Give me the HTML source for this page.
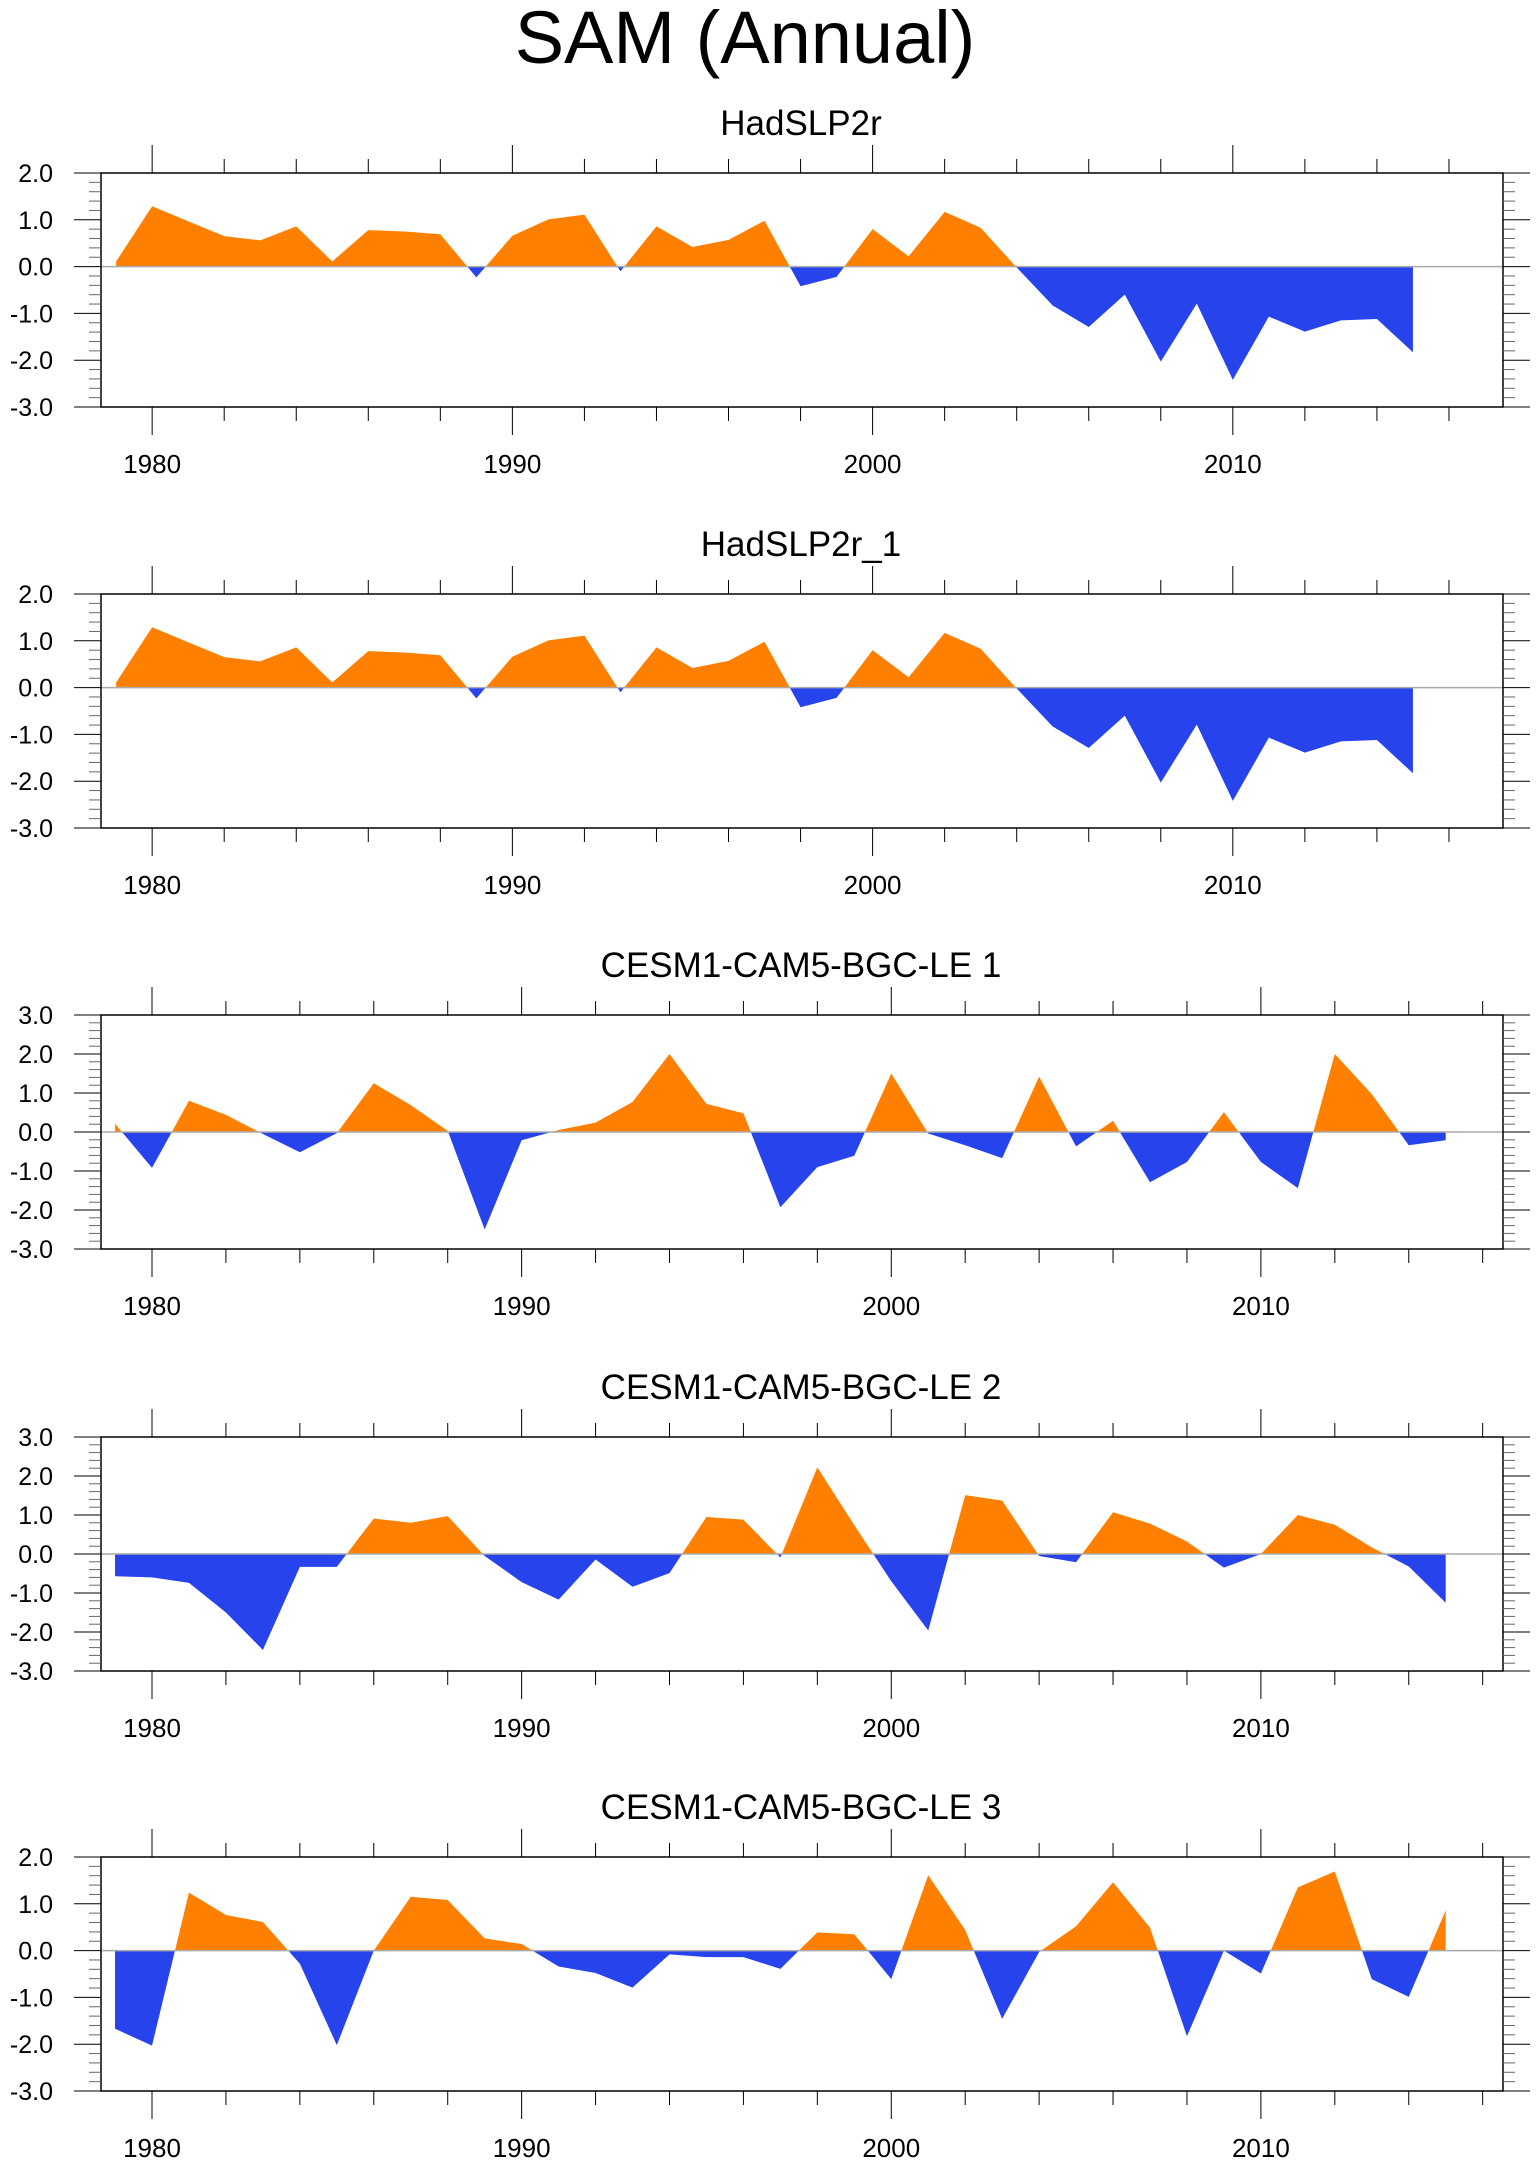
<!DOCTYPE html>
<html><head><meta charset="utf-8">
<style>
html,body{margin:0;padding:0;background:#fff;}
svg{display:block;font-family:"Liberation Sans",sans-serif;}
</style></head>
<body>
<svg id="chart" width="1540" height="2166" viewBox="0 0 1540 2166" xmlns="http://www.w3.org/2000/svg">
<text x="745" y="63" font-size="74" text-anchor="middle">SAM (Annual)</text>
</svg>
<script>
const years = [1979,1980,1981,1982,1983,1984,1985,1986,1987,1988,1989,1990,1991,1992,1993,1994,1995,1996,1997,1998,1999,2000,2001,2002,2003,2004,2005,2006,2007,2008,2009,2010,2011,2012,2013,2014,2015];
const hadslp = [0.11,1.29,0.97,0.65,0.56,0.86,0.11,0.78,0.75,0.69,-0.23,0.66,1.01,1.11,-0.1,0.86,0.42,0.57,0.98,-0.42,-0.22,0.8,0.22,1.17,0.83,-0.02,-0.83,-1.29,-0.6,-2.03,-0.79,-2.42,-1.07,-1.39,-1.15,-1.12,-1.83];
const hadslp1 = hadslp.slice();
const cesm1 = [0.21,-0.92,0.8,0.44,-0.05,-0.52,-0.03,1.25,0.69,0.03,-2.5,-0.21,0.05,0.24,0.77,2.0,0.72,0.48,-1.93,-0.9,-0.61,1.5,-0.04,-0.34,-0.67,1.42,-0.37,0.29,-1.29,-0.77,0.51,-0.77,-1.44,2.0,0.97,-0.34,-0.21];
const cesm2 = [-0.57,-0.6,-0.74,-1.5,-2.46,-0.33,-0.33,0.91,0.8,0.97,-0.05,-0.72,-1.17,-0.14,-0.84,-0.49,0.95,0.88,-0.09,2.22,0.74,-0.7,-1.96,1.51,1.37,-0.05,-0.21,1.07,0.78,0.32,-0.35,0.0,1.0,0.75,0.17,-0.32,-1.25];
const cesm3 = [-1.67,-2.03,1.24,0.76,0.61,-0.28,-2.02,0.0,1.15,1.08,0.26,0.14,-0.34,-0.48,-0.79,-0.08,-0.14,-0.14,-0.39,0.39,0.35,-0.61,1.61,0.44,-1.46,-0.03,0.52,1.46,0.49,-1.83,0.0,-0.49,1.35,1.69,-0.61,-0.99,0.86];
const xTickLabels = ["1980","1990","2000","2010"];
const yLabels5 = ["2.0","1.0","0.0","-1.0","-2.0","-3.0"];
const yLabels6 = ["3.0","2.0","1.0","0.0","-1.0","-2.0","-3.0"];
const titles = ["HadSLP2r","HadSLP2r_1","CESM1-CAM5-BGC-LE 1","CESM1-CAM5-BGC-LE 2","CESM1-CAM5-BGC-LE 3"];

const NS="http://www.w3.org/2000/svg";
const svg=document.getElementById('chart');
function mk(tag,attrs,parent){const e=document.createElementNS(NS,tag);for(const k in attrs)e.setAttribute(k,attrs[k]);(parent||svg).appendChild(e);return e;}

const panels=[
 {data:hadslp, top:173, ymax:2, ymin:-3, x0:1978.58, x1:2017.5, labels:yLabels5},
 {data:hadslp1, top:594, ymax:2, ymin:-3, x0:1978.58, x1:2017.5, labels:yLabels5},
 {data:cesm1, top:1015, ymax:3, ymin:-3, x0:1978.62, x1:2016.55, labels:yLabels6},
 {data:cesm2, top:1437, ymax:3, ymin:-3, x0:1978.62, x1:2016.55, labels:yLabels6},
 {data:cesm3, top:1857, ymax:2, ymin:-3, x0:1978.62, x1:2016.55, labels:yLabels5}
];
const L=101,R=1503,H=234;

panels.forEach((p,i)=>{
 const g=mk('g',{});
 
 
 const B=p.top+H;
 const xs=v=>L+(v-p.x0)/(p.x1-p.x0)*(R-L);
 const ys=v=>p.top+(p.ymax-v)/(p.ymax-p.ymin)*H;
 const t=mk('text',{x:801,y:p.top-38,'font-size':35,'text-anchor':'middle'},g);
 
 
 t.textContent=titles[i];
 const y0=ys(0);
 const cu=mk('clipPath',{id:'cu'+i},g); mk('rect',{x:L,y:p.top,width:R-L,height:y0-p.top},cu);
 const cd=mk('clipPath',{id:'cd'+i},g); mk('rect',{x:L,y:y0,width:R-L,height:B-y0},cd);
 let d='M'+xs(years[0])+','+y0;
 years.forEach((yr,k)=>{d+=' L'+xs(yr).toFixed(2)+','+ys(p.data[k]).toFixed(2);});
 d+=' L'+xs(years[years.length-1])+','+y0+' Z';
 const pu=mk('path',{d:d,fill:'#ff8000','clip-path':'url(#cu'+i+')'},g);
 
 
 const pd=mk('path',{d:d,fill:'#2744ec','clip-path':'url(#cd'+i+')'},g);
 
 
 const zl=mk('line',{x1:L,x2:R,y1:y0,y2:y0,stroke:'#aaa','stroke-width':1.5},g);
 
 
 const fr=mk('rect',{x:L,y:p.top,width:R-L,height:H,fill:'none',stroke:'#000','stroke-width':1.5},g);
 
 
 for(let yr=1980;yr<=p.x1;yr+=2){
  const x=xs(yr);const maj=yr%10===0;
  const len=maj?28:14;
  mk('line',{x1:x,x2:x,y1:p.top,y2:p.top-len,stroke:'#000','stroke-width':1},g);
  mk('line',{x1:x,x2:x,y1:B,y2:B+len,stroke:'#000','stroke-width':1},g);
 }
 xTickLabels.forEach(lb=>{
  const tx=mk('text',{x:xs(+lb),y:B+66,'font-size':26,'text-anchor':'middle'},g);
  
  
  tx.textContent=lb;
 });
 for(let v=p.ymin;v<=p.ymax+1e-6;v+=0.2){
  const y=ys(v);const maj=Math.abs(v-Math.round(v))<1e-6;
  const len=maj?27:12;
  mk('line',{x1:L,x2:L-len,y1:y,y2:y,stroke:maj?'#000':'#666','stroke-width':1},g);
  mk('line',{x1:R,x2:R+len,y1:y,y2:y,stroke:maj?'#000':'#666','stroke-width':1},g);
 }
 p.labels.forEach(lb=>{
  const ty=mk('text',{x:53,y:ys(+lb)+9,'font-size':25,'text-anchor':'end'},g);
  
  
  ty.textContent=lb;
 });
});
</script>
</body></html>
